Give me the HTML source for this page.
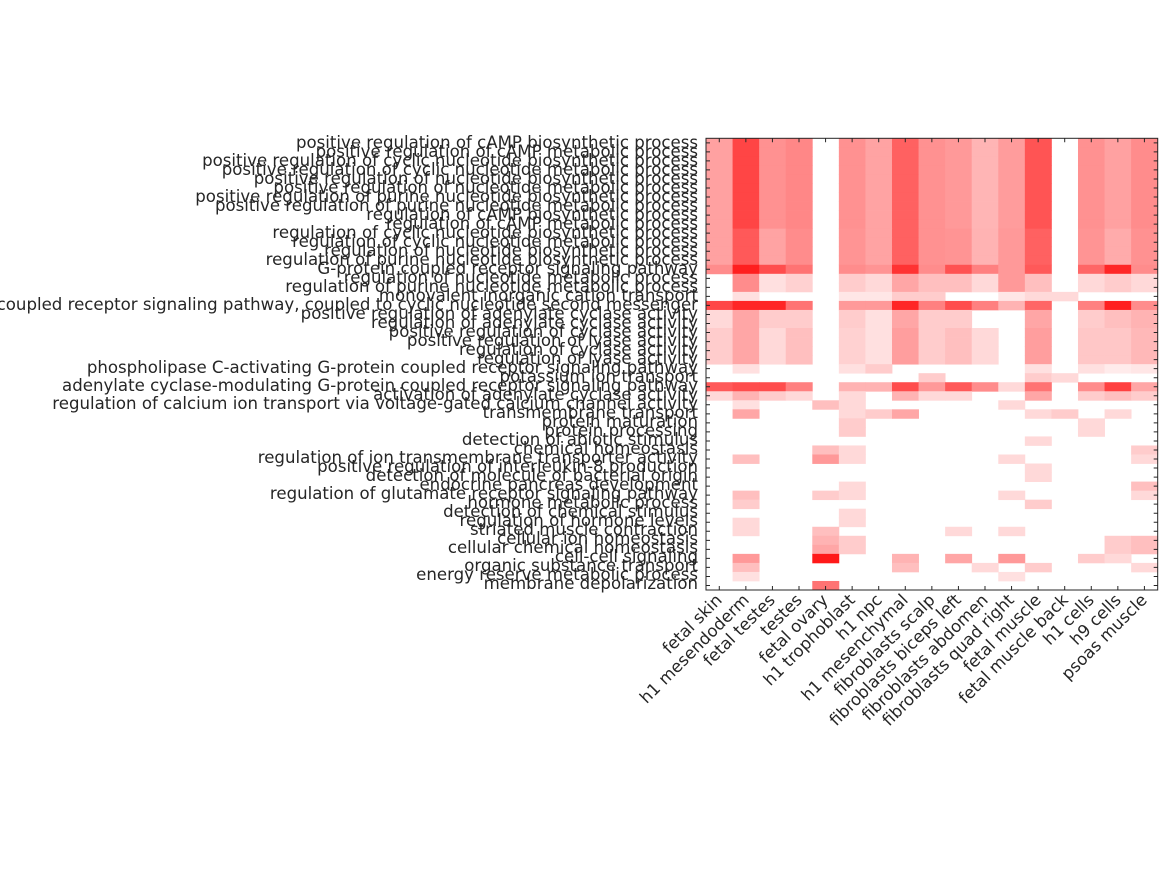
<!DOCTYPE html>
<html><head><meta charset="utf-8"><style>
html,body{margin:0;padding:0;background:#fff;}
svg{display:block;font-family:"DejaVu Sans","Liberation Sans",sans-serif;}
text{fill:#262626;font-size:16.6px;}
</style></head><body>
<svg id="s" width="1167" height="875" viewBox="0 0 1167 875" xmlns="http://www.w3.org/2000/svg">
<g id="cells"></g>
<g id="ticks" stroke="#262626" stroke-width="1"></g>
<rect x="706" y="138.3" width="451.7" height="451.7" fill="none" stroke="#262626" stroke-width="1"/>
<g text-anchor="end" transform="translate(0,-2)">
<text x="698" y="150">positive regulation of cAMP biosynthetic process</text>
<text x="698" y="159">positive regulation of cAMP metabolic process</text>
<text x="698" y="168">positive regulation of cyclic nucleotide biosynthetic process</text>
<text x="698" y="177">positive regulation of cyclic nucleotide metabolic process</text>
<text x="698" y="186">positive regulation of nucleotide biosynthetic process</text>
<text x="698" y="195">positive regulation of nucleotide metabolic process</text>
<text x="698" y="204">positive regulation of purine nucleotide biosynthetic process</text>
<text x="698" y="213">positive regulation of purine nucleotide metabolic process</text>
<text x="698" y="222">regulation of cAMP biosynthetic process</text>
<text x="698" y="231">regulation of cAMP metabolic process</text>
<text x="698" y="240">regulation of cyclic nucleotide biosynthetic process</text>
<text x="698" y="249">regulation of cyclic nucleotide metabolic process</text>
<text x="698" y="258">regulation of nucleotide biosynthetic process</text>
<text x="698" y="267">regulation of purine nucleotide biosynthetic process</text>
<text x="698" y="276">G-protein coupled receptor signaling pathway</text>
<text x="698" y="285">regulation of nucleotide metabolic process</text>
<text x="698" y="294">regulation of purine nucleotide metabolic process</text>
<text x="698" y="303">monovalent inorganic cation transport</text>
<text x="698" y="312">G-protein coupled receptor signaling pathway, coupled to cyclic nucleotide second messenger</text>
<text x="698" y="321">positive regulation of adenylate cyclase activity</text>
<text x="698" y="330">regulation of adenylate cyclase activity</text>
<text x="698" y="339">positive regulation of cyclase activity</text>
<text x="698" y="348">positive regulation of lyase activity</text>
<text x="698" y="357">regulation of cyclase activity</text>
<text x="698" y="366">regulation of lyase activity</text>
<text x="698" y="375">phospholipase C-activating G-protein coupled receptor signaling pathway</text>
<text x="698" y="384">potassium ion transport</text>
<text x="698" y="393">adenylate cyclase-modulating G-protein coupled receptor signaling pathway</text>
<text x="698" y="402">activation of adenylate cyclase activity</text>
<text x="698" y="411">regulation of calcium ion transport via voltage-gated calcium channel activity</text>
<text x="698" y="420">transmembrane transport</text>
<text x="698" y="429">protein maturation</text>
<text x="698" y="438">protein processing</text>
<text x="698" y="447">detection of abiotic stimulus</text>
<text x="698" y="456">chemical homeostasis</text>
<text x="698" y="465">regulation of ion transmembrane transporter activity</text>
<text x="698" y="474">positive regulation of interleukin-8 production</text>
<text x="698" y="483">detection of molecule of bacterial origin</text>
<text x="698" y="492">endocrine pancreas development</text>
<text x="698" y="501">regulation of glutamate receptor signaling pathway</text>
<text x="698" y="510">hormone metabolic process</text>
<text x="698" y="519">detection of chemical stimulus</text>
<text x="698" y="528">regulation of hormone levels</text>
<text x="698" y="537">striated muscle contraction</text>
<text x="698" y="546">cellular ion homeostasis</text>
<text x="698" y="555">cellular chemical homeostasis</text>
<text x="698" y="564">cell-cell signaling</text>
<text x="698" y="573">organic substance transport</text>
<text x="698" y="582">energy reserve metabolic process</text>
<text x="698" y="591">membrane depolarization</text>
</g>
<g text-anchor="end">
<text transform="translate(723,601) rotate(-45)">fetal skin</text>
<text transform="translate(750,601) rotate(-45)">h1 mesendoderm</text>
<text transform="translate(776,601) rotate(-45)">fetal testes</text>
<text transform="translate(803,601) rotate(-45)">testes</text>
<text transform="translate(829,601) rotate(-45)">fetal ovary</text>
<text transform="translate(856,601) rotate(-45)">h1 trophoblast</text>
<text transform="translate(883,601) rotate(-45)">h1 npc</text>
<text transform="translate(909,601) rotate(-45)">h1 mesenchymal</text>
<text transform="translate(936,601) rotate(-45)">fibroblasts scalp</text>
<text transform="translate(962,601) rotate(-45)">fibroblasts biceps left</text>
<text transform="translate(989,601) rotate(-45)">fibroblasts abdomen</text>
<text transform="translate(1015,601) rotate(-45)">fibroblasts quad right</text>
<text transform="translate(1042,601) rotate(-45)">fetal muscle</text>
<text transform="translate(1069,601) rotate(-45)">fetal muscle back</text>
<text transform="translate(1095,601) rotate(-45)">h1 cells</text>
<text transform="translate(1122,601) rotate(-45)">h9 cells</text>
<text transform="translate(1148,601) rotate(-45)">psoas muscle</text>
</g>
</svg>
<script>
var NS="http://www.w3.org/2000/svg";
var R=[];
var top10=[.37,.73,.43,.47,0,.43,.36,.62,.43,.4,.29,.39,.67,0,.43,.37,.45];
var r1114=[.37,.65,.36,.45,0,.42,.36,.62,.43,.42,.3,.4,.62,0,.42,.33,.43];
for(var i=0;i<10;i++)R.push(top10);
for(var i=0;i<4;i++)R.push(r1114);
R.push([.45,.88,.7,.55,0,.45,.42,.8,.45,.68,.5,.4,.65,0,.6,.85,.45]);
var r16=[0,.45,.12,.18,0,.2,.15,.35,.25,.25,.15,.4,.25,0,.15,.2,.15];
R.push(r16);R.push(r16);
R.push([0,.12,0,0,0,.1,.1,.2,.2,0,0,.1,.15,.15,0,0,0]);
R.push([.72,.85,.85,.55,0,.4,.4,.85,.5,.7,.5,.3,.6,0,.5,.88,.45]);
var r19=[.15,.35,.2,.2,0,.2,.12,.35,.2,.2,0,0,.35,0,.2,.25,.3];
R.push(r19);R.push(r19);
var r21=[.2,.35,.15,.25,0,.18,.12,.38,.2,.25,.15,0,.38,0,.22,.22,.28];
for(var i=0;i<4;i++)R.push(r21);
function sp(o){var a=[];for(var i=0;i<17;i++)a.push(o[i]||0);return a;}
R.push(sp({1:.12,5:.12,6:.2,12:.12,14:.12,15:.08,16:.1}));
R.push(sp({8:.2,12:.2,13:.15}));
R.push([.65,.7,.7,.5,0,.3,.3,.7,.4,.65,.45,.15,.55,0,.45,.75,.35]);
R.push(sp({0:.15,1:.3,2:.2,3:.15,5:.15,7:.3,8:.15,9:.15,12:.35,14:.2,15:.25,16:.2}));
R.push(sp({1:.12,4:.25,5:.15,11:.15}));
R.push(sp({1:.35,5:.15,6:.2,7:.35,12:.15,13:.2,15:.15}));
R.push(sp({5:.2,14:.15}));
R.push(sp({5:.2,14:.15}));
R.push(sp({12:.15}));
R.push(sp({4:.25,5:.15,16:.2}));
R.push(sp({1:.25,4:.4,5:.15,11:.15,16:.15}));
R.push(sp({12:.15}));
R.push(sp({12:.15}));
R.push(sp({5:.15,16:.25}));
R.push(sp({1:.25,4:.2,5:.15,11:.15,16:.15}));
R.push(sp({1:.2,12:.2}));
R.push(sp({5:.15}));
R.push(sp({1:.15,5:.15}));
R.push(sp({1:.15,4:.25,9:.15,11:.15}));
R.push(sp({4:.3,5:.2,15:.2,16:.25}));
R.push(sp({4:.35,5:.2,15:.2,16:.25}));
R.push(sp({1:.4,4:.9,7:.3,9:.35,11:.4,14:.2,15:.15}));
R.push(sp({1:.25,7:.25,10:.15,12:.2,16:.15}));
R.push(sp({1:.12,11:.12}));
R.push(sp({4:.55}));
var X0=706,Y0=138.3,W=451.7/17,H=451.7/50;
var g=document.getElementById("cells");
for(var r=0;r<50;r++)for(var c=0;c<17;c++){var v=R[r][c];if(!v)continue;
var e=document.createElementNS(NS,"rect");
e.setAttribute("x",X0+c*W);e.setAttribute("y",Y0+r*H);
e.setAttribute("width",W+0.4);e.setAttribute("height",H+0.4);
var k=Math.round(255*(1-v));e.setAttribute("fill","rgb(255,"+k+","+k+")");g.appendChild(e);}
var t=document.getElementById("ticks"),d="";
for(var r=0;r<50;r++){var y=Y0+(r+.5)*H;d+="M706 "+y+"h4M1157.7 "+y+"h-4";}
for(var c=0;c<17;c++){var x=X0+(c+.5)*W;d+="M"+x+" 138.3v4M"+x+" 590v-4";}
var p=document.createElementNS(NS,"path");p.setAttribute("d",d);t.appendChild(p);
</script>
</body></html>
